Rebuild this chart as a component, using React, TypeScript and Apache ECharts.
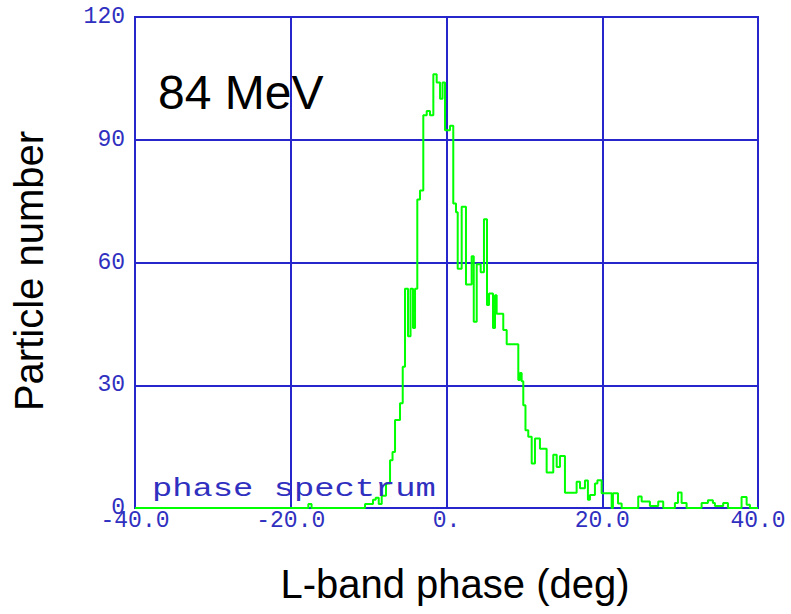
import React, { useEffect, useRef } from "react";
import * as echarts from "echarts";

// Histogram step edges (deg) and bin heights (particle count)
const phaseEdges = [
  -40, -17.74, -17.33, -10.46, -9.44, -9.09, -8.7, -8.32, -7.77, -7.25,
  -6.93, -6.61, -5.97, -5.62, -5.33, -4.94, -4.62, -4.3, -4.04, -3.75,
  -3.4, -2.98, -2.54, -2.12, -1.69, -1.26, -0.83, -0.51, -0.19, 0.45,
  0.87, 1.22, 1.44, 1.95, 2.5, 3.23, 3.5, 3.88, 4.39, 4.81,
  5.2, 5.46, 5.97, 6.23, 6.44, 7.29, 7.73, 9.22, 9.44, 9.65,
  9.86, 10.14, 10.5, 10.94, 11.36, 12.0, 12.86, 13.71, 14.15, 14.57,
  15.21, 16.71, 17.14, 17.78, 18.16, 18.42, 19.06, 19.38, 19.92, 21.21,
  21.37, 22.02, 22.49, 24.62, 25.06, 26.12, 27.19, 27.83, 29.33, 29.72,
  30.19, 30.83, 32.76, 33.57, 34.21, 34.47, 35.53, 36.14, 37.89, 38.54,
  38.96, 40,
];
const counts = [
  0, 1, 0, 1, 2, 2.5, 1, 3, 6, 11.7,
  13.7, 21.5, 25.6, 34.5, 53.6, 42, 53.6, 44, 53.6, 75.4,
  77.6, 96, 97, 96, 106, 104, 100, 104, 92.3, 93.4,
  74.4, 72.3, 58.5, 73.6, 54.6, 61.5, 45.5, 59.6, 57.6, 70.6,
  49.6, 52.4, 44, 52, 47.5, 43.5, 40, 31.3, 33, 31,
  25.1, 19, 17.4, 10.9, 17, 14.5, 8.7, 13, 10, 12.7,
  3.7, 6.4, 4.8, 6.7, 2, 3.2, 6, 6.8, 3.6, 0,
  3.6, 1.1, 0, 2.8, 1.6, 0.5, 1.6, 0, 1.2, 3.8,
  1.2, 0, 1.2, 1.9, 1.2, 0.5, 1.2, 0, 2.7, 0.8,
  0, 0,
];
const xTickValues = [-40, -20, 0, 20, 40];
const xTickLabels = ["-40.0", "-20.0", "0.", "20.0", "40.0"];
const yTickLabels = ["0", "30", "60", "90", "120"];

const BLUE = "#2626cc";
const LABEL_BLUE = "#3030c0";

export default function App() {
  const ref = useRef<HTMLDivElement>(null);
  useEffect(() => {
    if (!ref.current) return;
    const chart = echarts.init(ref.current, null, { renderer: "svg" });
    chart.setOption({
      animation: false,
      grid: {
        left: 135,
        right: 33,
        top: 17,
        bottom: 106,
        show: true,
        borderColor: BLUE,
        borderWidth: 2,
      },
      xAxis: {
        type: "value",
        min: -40,
        max: 40,
        interval: 20,
        axisLine: { show: true, lineStyle: { color: BLUE, width: 2 } },
        axisTick: { show: false },
        splitLine: { show: true, lineStyle: { color: BLUE, width: 2 } },
        axisLabel: {
          color: LABEL_BLUE,
          fontFamily: "Liberation Mono",
          fontSize: 23,
          margin: 1,
          formatter: (v: number) => {
            const i = xTickValues.indexOf(v);
            return i >= 0 ? xTickLabels[i] : "";
          },
        },
      },
      yAxis: {
        type: "value",
        min: 0,
        max: 120,
        interval: 30,
        axisLine: { show: true, lineStyle: { color: BLUE, width: 2 } },
        axisTick: { show: false },
        splitLine: { show: true, lineStyle: { color: BLUE, width: 2 } },
        axisLabel: {
          color: LABEL_BLUE,
          fontFamily: "Liberation Mono",
          fontSize: 23,
          margin: 10,
          formatter: (v: number) => yTickLabels[Math.round(v / 30)] ?? "",
        },
      },
      series: [
        {
          type: "line",
          step: "end",
          symbol: "none",
          lineStyle: { color: "#00ff00", width: 2 },
          data: phaseEdges.map((x, i) => [x, counts[i]]),
          z: 5,
        },
      ],
      graphic: [
        {
          type: "text",
          left: 158,
          top: 68,
          style: {
            text: "84 MeV",
            font: "48px 'Liberation Sans', Arial, sans-serif",
            fill: "#000",
          },
        },
        {
          type: "text",
          x: 152,
          y: 476,
          scaleX: 1.3,
          style: {
            text: "phase spectrum",
            font: "26px 'Liberation Mono', monospace",
            fill: LABEL_BLUE,
          },
          z: 10,
        },
        {
          type: "text",
          x: 29,
          y: 271,
          rotation: Math.PI / 2,
          style: {
            text: "Particle number",
            font: "40px 'Liberation Sans', Arial, sans-serif",
            fill: "#000",
            align: "center",
            verticalAlign: "middle",
          },
        },
        {
          type: "text",
          x: 455,
          y: 584,
          style: {
            text: "L-band phase (deg)",
            font: "40px 'Liberation Sans', Arial, sans-serif",
            fill: "#000",
            align: "center",
            verticalAlign: "middle",
          },
        },
      ],
    });
    return () => chart.dispose();
  }, []);
  return (
    <div
      ref={ref}
      style={{ position: "fixed", left: 0, top: 0, width: 791, height: 614, background: "#fff" }}
    />
  );
}
